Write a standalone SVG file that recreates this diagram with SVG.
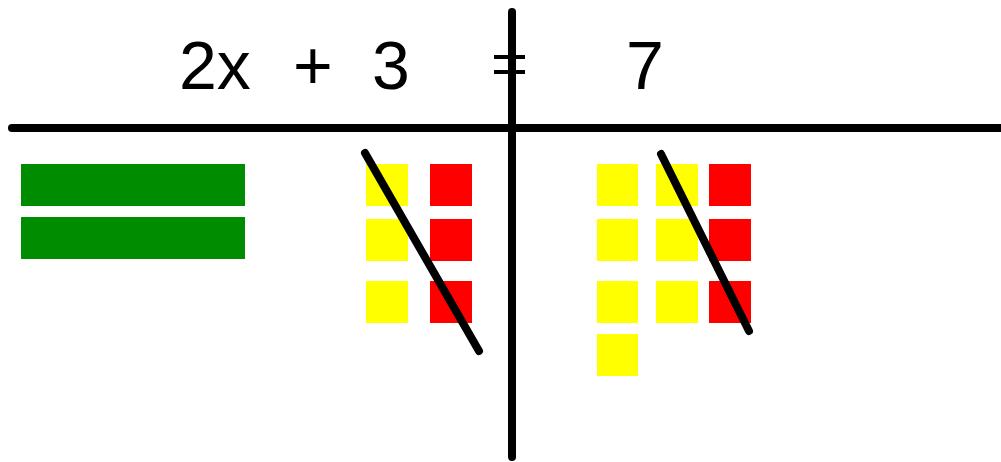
<svg xmlns="http://www.w3.org/2000/svg" width="1001" height="462" viewBox="0 0 1001 462">
<style>
.ln{stroke:#000;stroke-width:8;stroke-linecap:round;fill:none}
.tk{stroke:#000;stroke-width:4;fill:none}
.g{fill:#008c00}
.y{fill:#ffff00}
.r{fill:#ff0000}
.t{font-family:"Liberation Sans",Arial,sans-serif;font-size:68px;fill:#000}
</style>
<rect width="1001" height="462" fill="#fff"/>
<g id="equation">
<text class="t" x="179" y="89">2x</text>
<text class="t" x="293" y="89">+</text>
<text class="t" x="372" y="89">3</text>
<text class="t" x="626" y="89">7</text>
</g>
<g id="green-bars">
<rect class="g" x="21" y="164" width="224" height="42"/>
<rect class="g" x="21" y="217" width="224" height="42"/>
</g>
<g id="left-units">
<rect class="y" x="366" y="164" width="42" height="42"/>
<rect class="y" x="366" y="219" width="42" height="42"/>
<rect class="y" x="366" y="281" width="42" height="42"/>
<rect class="r" x="430" y="164" width="42" height="42"/>
<rect class="r" x="430" y="219" width="42" height="42"/>
<rect class="r" x="430" y="281" width="42" height="42"/>
</g>
<g id="right-units">
<rect class="y" x="597" y="164" width="41" height="42"/>
<rect class="y" x="597" y="219" width="41" height="42"/>
<rect class="y" x="597" y="281" width="41" height="42"/>
<rect class="y" x="597" y="334" width="41" height="42"/>
<rect class="y" x="656" y="164" width="42" height="42"/>
<rect class="y" x="656" y="219" width="42" height="42"/>
<rect class="y" x="656" y="281" width="42" height="42"/>
<rect class="r" x="709" y="164" width="42" height="42"/>
<rect class="r" x="709" y="219" width="42" height="42"/>
<rect class="r" x="709" y="281" width="42" height="42"/>
</g>
<g id="lines">
<line class="ln" x1="12" y1="128" x2="1005" y2="128"/>
<line class="ln" x1="512" y1="12" x2="512" y2="457"/>
<line class="tk" x1="494" y1="57" x2="525" y2="57"/>
<line class="tk" x1="494" y1="72" x2="525" y2="72"/>
<line class="ln" x1="365" y1="153" x2="479" y2="351"/>
<line class="ln" x1="661" y1="154" x2="749" y2="331"/>
</g>
</svg>
